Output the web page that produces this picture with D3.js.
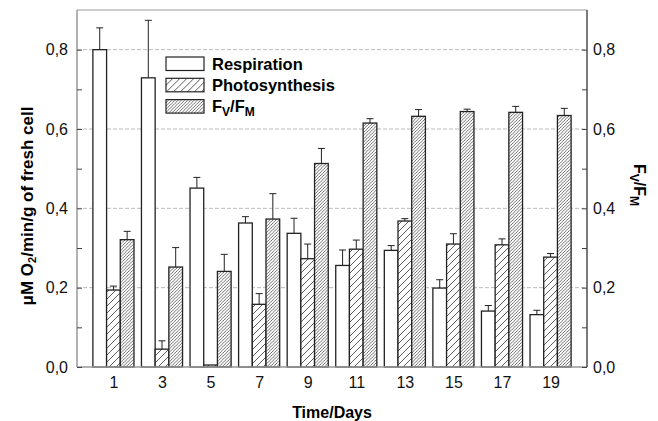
<!DOCTYPE html>
<html lang="en">
<head>
<meta charset="UTF-8">
<title>Respiration, photosynthesis and Fv/Fm</title>
<script src="https://d3js.org/d3.v7.min.js"></script>
<style>
  body { margin: 0; background: #fff; }
  text { font-family: "Liberation Sans", Arial, sans-serif; }
</style>
</head>
<body>
<svg width="658" height="421"></svg>
<script>
// values
const days = [1, 3, 5, 7, 9, 11, 13, 15, 17, 19];
const respiration = [0.800, 0.729, 0.451, 0.363, 0.337, 0.256, 0.294, 0.199, 0.141, 0.132];
const respirationErr = [0.055, 0.145, 0.027, 0.016, 0.038, 0.039, 0.012, 0.021, 0.014, 0.011];
const photosynthesis = [0.194, 0.045, 0.005, 0.158, 0.273, 0.297, 0.368, 0.310, 0.308, 0.277];
const photosynthesisErr = [0.010, 0.021, 0.000, 0.027, 0.037, 0.023, 0.006, 0.026, 0.015, 0.009];
const fvfm = [0.321, 0.252, 0.241, 0.373, 0.513, 0.615, 0.632, 0.644, 0.642, 0.634];
const fvfmErr = [0.021, 0.049, 0.043, 0.064, 0.038, 0.011, 0.017, 0.006, 0.015, 0.018];
const yTicks = [0, 0.2, 0.4, 0.6, 0.8];
const yMinor = [0.1, 0.3, 0.5, 0.7];

const svg = d3.select("svg");
const margin = { left: 77, right: 587, top: 10, bottom: 367 };

const x = d3.scaleLinear().domain([-0.5, 20.5]).range([margin.left, margin.right]);
const yL = d3.scaleLinear().domain([0, 0.9]).range([margin.bottom, margin.top]);
const yR = d3.scaleLinear().domain([0, 0.9]).range([margin.bottom, margin.top]);
const fmt = d => d3.format(".1f")(d).replace(".", ",");

// hatch patterns
const defs = svg.append("defs");
function hatch(id, size, sw) {
    const p = defs.append("pattern")
        .attr("id", id)
        .attr("patternUnits", "userSpaceOnUse")
        .attr("width", size).attr("height", size);
    p.append("rect").attr("width", size).attr("height", size).attr("fill", "#fff");
    p.append("path")
        .attr("d", `M0,${size} L${size},0 M${-size / 2},${size / 2} L${size / 2},${-size / 2} M${size / 2},${size * 1.5} L${size * 1.5},${size / 2}`)
        .attr("stroke", "#333").attr("stroke-width", sw);
}
hatch("hatchSparse", 7, 0.8);
hatch("hatchDense", 3.2, 0.7);

// grid lines
svg.append("g").selectAll("line").data(yTicks.slice(1)).join("line")
    .attr("x1", margin.left).attr("x2", margin.right)
    .attr("y1", d => yL(d)).attr("y2", d => yL(d))
    .attr("stroke", "#aaa").attr("stroke-width", 0.8)
    .attr("stroke-dasharray", "4,2");

// bars
const barW = x(0.564) - x(0);
const series = [
    { name: "Respiration", values: respiration, err: respirationErr, fill: "#fff", y: yL, off: -1 },
    { name: "Photosynthesis", values: photosynthesis, err: photosynthesisErr, fill: "url(#hatchSparse)", y: yL, off: 0 },
    { name: "FV/FM", values: fvfm, err: fvfmErr, fill: "url(#hatchDense)", y: yR, off: 1 }
];

series.forEach(s => {
    const g = svg.append("g");
    const data = days.map((d, i) => ({ day: d, v: s.values[i], e: s.err[i] }));
    // error bars (upper only)
    g.selectAll("line.err").data(data.filter(d => d.e > 0)).join("line")
        .attr("x1", d => x(d.day) + s.off * barW).attr("x2", d => x(d.day) + s.off * barW)
        .attr("y1", d => s.y(d.v)).attr("y2", d => s.y(d.v + d.e))
        .attr("stroke", "#222").attr("stroke-width", 1);
    g.selectAll("line.cap").data(data.filter(d => d.e > 0)).join("line")
        .attr("x1", d => x(d.day) + s.off * barW - 3.5).attr("x2", d => x(d.day) + s.off * barW + 3.5)
        .attr("y1", d => s.y(d.v + d.e)).attr("y2", d => s.y(d.v + d.e))
        .attr("stroke", "#222").attr("stroke-width", 1);
    g.selectAll("rect").data(data).join("rect")
        .attr("x", d => x(d.day) + s.off * barW - barW / 2)
        .attr("width", barW)
        .attr("y", d => s.y(d.v))
        .attr("height", d => s.y(0) - s.y(d.v))
        .attr("fill", s.fill)
        .attr("stroke", "#222").attr("stroke-width", 1.3);
});

// frame
svg.append("line").attr("x1", margin.left).attr("x2", margin.right)
    .attr("y1", margin.top).attr("y2", margin.top).attr("stroke", "#999").attr("stroke-width", 1.2);
svg.append("line").attr("x1", margin.left).attr("x2", margin.right)
    .attr("y1", margin.bottom).attr("y2", margin.bottom).attr("stroke", "#999").attr("stroke-width", 1.5);
svg.append("line").attr("x1", margin.left).attr("x2", margin.left)
    .attr("y1", margin.top).attr("y2", margin.bottom).attr("stroke", "#888").attr("stroke-width", 1.3);
svg.append("line").attr("x1", margin.right).attr("x2", margin.right)
    .attr("y1", margin.top).attr("y2", margin.bottom).attr("stroke", "#333").attr("stroke-width", 1.3);

// axes
const leftAxis = svg.append("g").attr("transform", `translate(${margin.left},0)`)
    .call(d3.axisLeft(yL).tickValues(yTicks).tickFormat(fmt).tickSizeInner(-5).tickSizeOuter(0).tickPadding(9));
const leftMinor = svg.append("g").attr("transform", `translate(${margin.left},0)`)
    .call(d3.axisLeft(yL).tickValues(yMinor).tickFormat("").tickSizeInner(-5).tickSizeOuter(0));
const rightAxis = svg.append("g").attr("transform", `translate(${margin.right},0)`)
    .call(d3.axisRight(yR).tickValues(yTicks).tickFormat(fmt).tickSizeInner(-5).tickSizeOuter(0).tickPadding(6));
const rightMinor = svg.append("g").attr("transform", `translate(${margin.right},0)`)
    .call(d3.axisRight(yR).tickValues(yMinor).tickFormat("").tickSizeInner(-5).tickSizeOuter(0));
const bottomAxis = svg.append("g").attr("transform", `translate(0,${margin.bottom})`)
    .call(d3.axisBottom(x).tickValues(days).tickFormat(d3.format("d")).tickSize(0).tickPadding(10));

[leftAxis, leftMinor, rightAxis, rightMinor, bottomAxis].forEach(a => {
    a.select(".domain").remove();
    a.selectAll(".tick line").attr("stroke", "#444").attr("stroke-width", 1);
    a.selectAll("text").attr("font-size", 16).attr("fill", "#111")
        .attr("font-family", "'Liberation Sans', Arial, sans-serif");
});

// axis titles
svg.append("text")
    .attr("transform", `translate(33,206) rotate(-90)`)
    .attr("text-anchor", "middle")
    .attr("font-size", 17).attr("font-weight", "bold")
    .call(t => {
        t.append("tspan").text("\u03bcM O");
        t.append("tspan").attr("font-size", 11).attr("baseline-shift", "-25%").text("2");
        t.append("tspan").text("/min/g of fresh cell");
    });

svg.append("text")
    .attr("transform", `translate(634,185) rotate(90)`)
    .attr("text-anchor", "middle")
    .attr("font-size", 16).attr("font-weight", "bold")
    .call(t => {
        t.append("tspan").text("F");
        t.append("tspan").attr("font-size", 12).attr("baseline-shift", "-30%").text("V");
        t.append("tspan").text("/F");
        t.append("tspan").attr("font-size", 12).attr("baseline-shift", "-30%").text("M");
    });

svg.append("text")
    .attr("x", (margin.left + margin.right) / 2).attr("y", 418)
    .attr("text-anchor", "middle")
    .attr("font-size", 16).attr("font-weight", "bold")
    .text("Time/Days");

// legend
const legend = svg.append("g").attr("transform", "translate(166,57)");
series.forEach((s, i) => {
    const row = legend.append("g").attr("transform", `translate(0,${i * 21.3})`);
    row.append("rect").attr("width", 38).attr("height", 13.5)
        .attr("fill", s.fill).attr("stroke", "#222").attr("stroke-width", 1.2);
    const t = row.append("text").attr("x", 46).attr("y", 12.5)
        .attr("font-size", 16.5).attr("font-weight", "bold");
    if (s.name === "FV/FM") {
        t.append("tspan").text("F");
        t.append("tspan").attr("font-size", 12).attr("baseline-shift", "-30%").text("V");
        t.append("tspan").text("/F");
        t.append("tspan").attr("font-size", 12).attr("baseline-shift", "-30%").text("M");
    } else {
        t.text(s.name);
    }
});
</script>
</body>
</html>
